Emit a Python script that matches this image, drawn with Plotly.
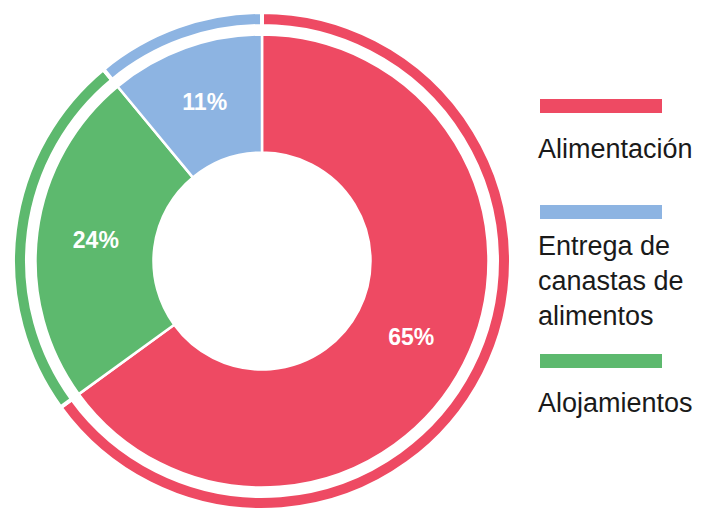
import plotly.graph_objects as go

# Data (legend order)
categories = ["Alimentación", "Entrega de canastas de alimentos", "Alojamientos"]
legend_text = ["Alimentación", "Entrega de<br>canastas de<br>alimentos", "Alojamientos"]
values = [65, 11, 24]
colors = ["#EE4A63", "#8DB4E2", "#5DB96E"]

# clockwise drawing order starting at 12 o'clock
pie_order = [0, 2, 1]
p_labels = [categories[i] for i in pie_order]
p_values = [values[i] for i in pie_order]
p_colors = [colors[i] for i in pie_order]

W, H = 707, 508
OFF = 8  # page body margin offset
cx, cy = 262 - OFF, 261 - OFF  # centre in figure pixels (from top)


def dom(r):
    return dict(x=[(cx - r) / W, (cx + r) / W],
                y=[(H - cy - r) / H, (H - cy + r) / H])


fig = go.Figure()

# thin outer ring
fig.add_trace(go.Pie(
    labels=p_labels, values=p_values, sort=False, direction="clockwise",
    rotation=0, hole=235 / 249, domain=dom(249),
    marker=dict(colors=p_colors, line=dict(color="white", width=4)),
    textinfo="none", hoverinfo="skip", showlegend=False,
))

# main donut
fig.add_trace(go.Pie(
    labels=p_labels, values=p_values, sort=False, direction="clockwise",
    rotation=0, hole=108.5 / 226.5, domain=dom(226.5),
    marker=dict(colors=p_colors, line=dict(color="white", width=2.5)),
    textinfo="percent", texttemplate="<b>%{percent:.0%}</b>",
    textposition="inside", insidetextorientation="horizontal",
    textfont=dict(family="Liberation Sans", size=23, color="white"),
    showlegend=False,
))

# custom legend: bar above label
bar_y = [106, 212, 361]
text_y = [149, 281, 403]
shapes = []
annotations = []
for i in range(len(categories)):
    shapes.append(dict(type="rect", xref="paper", yref="paper",
                       x0=(540 - OFF) / W, x1=(662 - OFF) / W,
                       y0=1 - (bar_y[i] - OFF + 7) / H,
                       y1=1 - (bar_y[i] - OFF - 7) / H,
                       fillcolor=colors[i], line=dict(width=0)))
    annotations.append(dict(xref="paper", yref="paper", x=(536 - OFF) / W,
                            y=1 - (text_y[i] - OFF) / H, xanchor="left",
                            yanchor="middle", align="left", showarrow=False,
                            text=legend_text[i],
                            font=dict(family="Liberation Sans", size=27,
                                      color="#1a1a1a")))

fig.update_layout(
    width=W, height=H, margin=dict(l=0, r=0, t=0, b=0),
    paper_bgcolor="white", plot_bgcolor="white",
    shapes=shapes, annotations=annotations,
)

fig.write_html("out.html")
